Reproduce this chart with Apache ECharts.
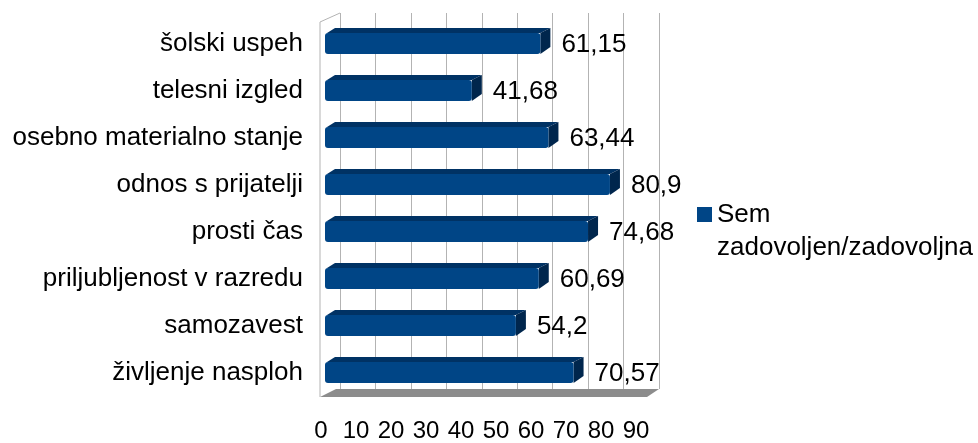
<!DOCTYPE html>
<html>
<head>
<meta charset="utf-8">
<script src="https://cdn.jsdelivr.net/npm/echarts@6/dist/echarts.min.js"></script>
<style>
  html, body { margin: 0; padding: 0; background: #fff; }
  #chart { width: 978px; height: 443px; }
</style>
</head>
<body>
<div id="chart"></div>
<script>
// categories top to bottom
let categories = [
  "šolski uspeh",
  "telesni izgled",
  "osebno materialno stanje",
  "odnos s prijatelji",
  "prosti čas",
  "priljubljenost v razredu",
  "samozavest",
  "življenje nasploh",
];
let seriesName = "Sem zadovoljen/zadovoljna";
let values = [61.15, 41.68, 63.44, 80.9, 74.68, 60.69, 54.2, 70.57];
let xMin = 0;
let xMax = 90;
let xStep = 10;

let font = "Liberation Sans, Arial, sans-serif";

let myChart = echarts.init(document.getElementById("chart"));

// 3d looking bar: front face, top face, right face, label
function renderBar(params, api) {
  let p0 = api.coord([0, api.value(1)]);
  let p1 = api.coord([api.value(0), api.value(1)]);
  let h = 21;
  let dx = 10;
  let dy = 5;
  let yTop = p0[1] - h / 2;
  let yBot = p0[1] + h / 2;
  return {
    type: "group",
    children: [
      {
        type: "polygon",
        shape: { points: [[p0[0] + 2, yTop], [p0[0] + dx, yTop - dy], [p1[0] + dx, yTop - dy], [p1[0], yTop]] },
        style: { fill: "#003264" },
      },
      {
        type: "polygon",
        shape: { points: [[p1[0], yTop], [p1[0] + dx, yTop - dy], [p1[0] + dx, yBot - dy - 2], [p1[0], yBot]] },
        style: { fill: "#00264d" },
      },
      {
        type: "rect",
        shape: { x: p0[0], y: yTop, width: p1[0] - p0[0], height: h, r: 3 },
        style: { fill: "#004586" },
      },
      {
        type: "text",
        style: {
          text: String(api.value(0)).replace(".", ","),
          x: p1[0] + 21,
          y: p0[1] + 1,
          verticalAlign: "middle",
          fontSize: 26,
          fontFamily: font,
          fill: "#000",
        },
      },
    ],
  };
}

myChart.setOption({
  animation: false,
  grid: [
    // bars
    { left: 325, top: 20, width: 317, height: 376 },
    // back wall
    { left: 340, top: 13, width: 319, height: 376 },
    // axis labels at the front edge of the floor
    { left: 321, top: 20, width: 315, height: 376 },
  ],
  xAxis: [
    {
      gridIndex: 0, type: "value", min: xMin, max: xMax, interval: xStep,
      axisLine: { show: false }, axisTick: { show: false },
      axisLabel: { show: false }, splitLine: { show: false },
    },
    {
      gridIndex: 1, type: "value", min: xMin, max: xMax, interval: xStep,
      axisLine: { show: false }, axisTick: { show: false }, axisLabel: { show: false },
      splitLine: { show: true, lineStyle: { color: "#b3b3b3", width: 1 } },
    },
    {
      gridIndex: 2, type: "value", min: xMin, max: xMax, interval: xStep,
      axisLine: { show: false }, axisTick: { show: false }, splitLine: { show: false },
      axisLabel: { margin: 24, fontSize: 24, fontFamily: font, color: "#000" },
    },
  ],
  yAxis: [
    {
      gridIndex: 0, type: "category", data: categories, inverse: true,
      axisLine: { show: false }, axisTick: { show: false }, splitLine: { show: false },
      axisLabel: { margin: 22, fontSize: 26, fontFamily: font, color: "#000" },
    },
    { gridIndex: 1, type: "value", show: false },
    { gridIndex: 2, type: "value", show: false },
  ],
  legend: {
    orient: "vertical",
    left: 697,
    top: 165,
    padding: 0,
    icon: "rect",
    itemWidth: 15,
    itemHeight: 15,
    itemGap: 8,
    data: [seriesName],
    // empty first line keeps the square level with "Sem"
    formatter: (name) => "\n" + name.replace(" ", "\n"),
    textStyle: { fontSize: 26, fontFamily: font, color: "#000", lineHeight: 33 },
  },
  graphic: [
    // floor
    {
      type: "polygon", z: 0,
      shape: { points: [[320, 397], [647, 397], [659, 389], [336, 389]] },
      style: { fill: "#8c8c8c" },
    },
    // left wall edges
    {
      type: "polyline", z: 0,
      shape: { points: [[320, 397], [320, 22], [340, 13]] },
      style: { stroke: "#b3b3b3", lineWidth: 1, fill: null },
    },
  ],
  series: [
    {
      name: seriesName,
      type: "custom",
      xAxisIndex: 0,
      yAxisIndex: 0,
      itemStyle: { color: "#004586" },
      data: values.map((v, i) => [v, i]),
      encode: { x: 0, y: 1 },
      renderItem: renderBar,
      z: 5,
    },
  ],
});
</script>
</body>
</html>
